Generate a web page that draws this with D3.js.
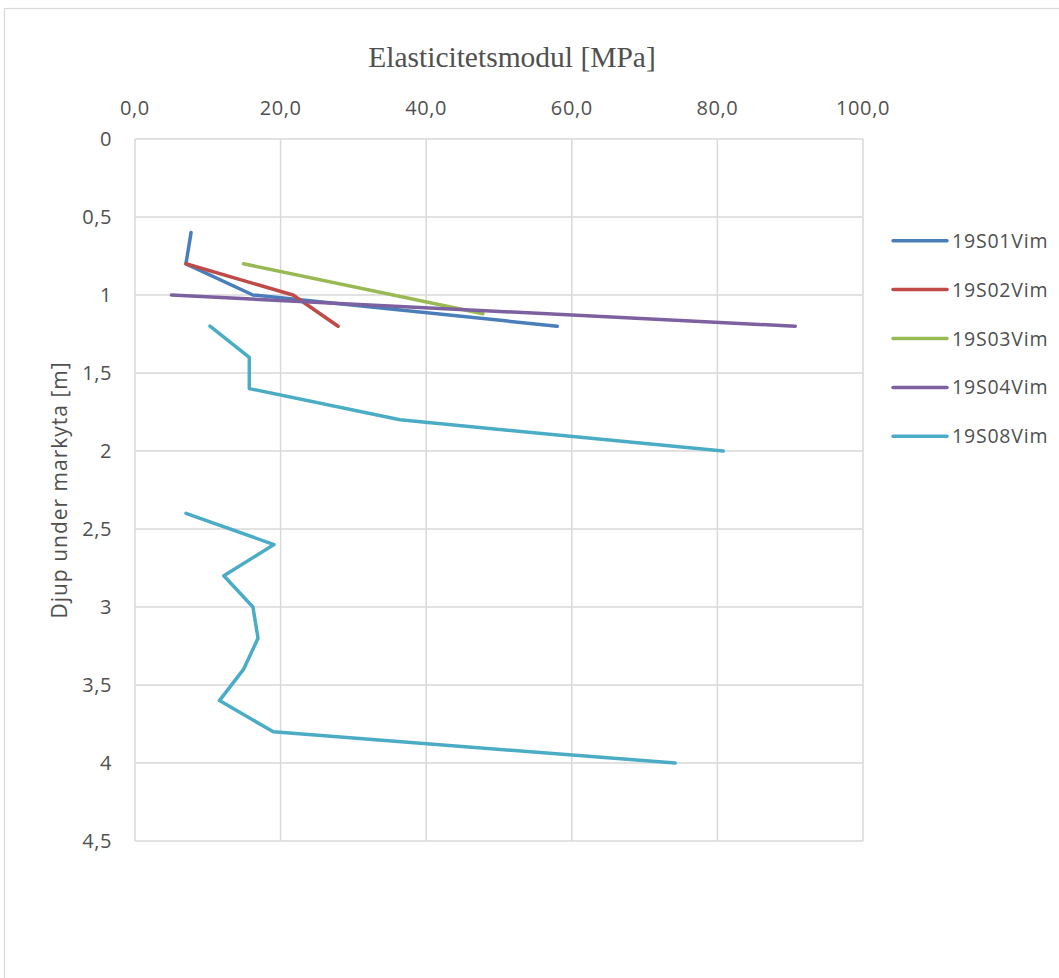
<!DOCTYPE html>
<html><head><meta charset="utf-8">
<script src="https://cdn.jsdelivr.net/npm/d3@7/dist/d3.min.js"></script>
<style>body{margin:0;background:#fff;}svg{display:block;}</style>
</head><body>
<script>
const seriesNames = ["19S01Vim","19S02Vim","19S03Vim","19S04Vim","19S08Vim"];
const seriesColors = ["#4A7EBB","#BE4B48","#98B954","#7D60A0","#4BACC6"];
const s01Depth = [0.6, 0.8, 1.0, 1.2];
const s01E     = [7.7, 7.0, 16.2, 58.0];
const s02Depth = [0.8, 1.0, 1.2];
const s02E     = [7.0, 21.7, 27.9];
const s03Depth = [0.8, 1.12];
const s03E     = [14.9, 47.8];
const s04Depth = [1.0, 1.2];
const s04E     = [5.0, 90.7];
const s08Depth = [1.2, 1.4, 1.6, 1.8, 2.0, 2.2, 2.4, 2.6, 2.8, 3.0, 3.2, 3.4, 3.6, 3.8, 4.0];
const s08E     = [10.3, 15.7, 15.7, 36.4, 80.8, null, 7.0, 19.1, 12.2, 16.2, 16.9, 14.9, 11.6, 19.0, 74.2];
const xTicks = [0, 20, 40, 60, 80, 100];
const yTicks = [0, 0.5, 1, 1.5, 2, 2.5, 3, 3.5, 4, 4.5];
const titleText = "Elasticitetsmodul [MPa]";
const yTitleText = "Djup under markyta [m]";

const W = 1059, H = 978;
const svg = d3.select("body").append("svg").attr("width", W).attr("height", H);
const fmt = v => d3.format(".1f")(v).replace(".", ",");
const fmtY = v => String(v).replace(".", ",");

svg.append("rect").attr("x", 4.5).attr("y", 8.5).attr("width", W + 10).attr("height", H + 10)
  .attr("fill", "#fff").attr("stroke", "#d9d9d9").attr("stroke-width", 1.2);

const x = d3.scaleLinear().domain([0, 100]).range([135, 863]);
const y = d3.scaleLinear().domain([0, 4.5]).range([139, 841]);

const grid = svg.append("g");
grid.selectAll("line.v").data(xTicks).join("line")
  .attr("x1", d => x(d)).attr("x2", d => x(d)).attr("y1", y(0)).attr("y2", y(4.5))
  .attr("stroke", "#d9d9d9").attr("stroke-width", 1.5);
grid.selectAll("line.h").data(yTicks).join("line")
  .attr("x1", x(0)).attr("x2", x(100)).attr("y1", d => y(d)).attr("y2", d => y(d))
  .attr("stroke", "#d9d9d9").attr("stroke-width", 1.5);

const font = "'Open Sans', sans-serif";
const txt = "#505050";

svg.append("g").selectAll("text").data(xTicks).join("text")
  .attr("x", d => x(d)).attr("y", 115).attr("text-anchor", "middle")
  .attr("font-family", font).attr("font-size", 20).attr("letter-spacing", 0.6).attr("fill", txt)
  .text(fmt);

svg.append("g").selectAll("text").data(yTicks).join("text")
  .attr("x", 112).attr("y", d => y(d) + 7).attr("text-anchor", "end")
  .attr("font-family", font).attr("font-size", 20).attr("letter-spacing", 0.6).attr("fill", txt)
  .text(fmtY);

svg.append("text").attr("x", 512).attr("y", 67).attr("text-anchor", "middle")
  .attr("font-family", "'Liberation Serif', 'Times New Roman', serif").attr("font-size", 29.5)
  .attr("fill", txt).text(titleText);

svg.append("text").attr("transform", `translate(67,${(y(0)+y(4.5))/2}) rotate(-90)`)
  .attr("text-anchor", "middle").attr("font-family", font).attr("font-size", 21).attr("letter-spacing", 1)
  .attr("fill", txt).text(yTitleText);

const series = [
  {depth: s01Depth, e: s01E},
  {depth: s02Depth, e: s02E},
  {depth: s03Depth, e: s03E},
  {depth: s04Depth, e: s04E},
  {depth: s08Depth, e: s08E}
].map((s, i) => ({name: seriesNames[i], color: seriesColors[i],
  pts: s.depth.map((d, j) => ({d, v: s.e[j]}))}));

const line = d3.line().defined(p => p.v !== null).x(p => x(p.v)).y(p => y(p.d));
svg.append("g").selectAll("path").data(series).join("path")
  .attr("d", s => line(s.pts)).attr("fill", "none").attr("stroke", s => s.color)
  .attr("stroke-width", 3.5).attr("stroke-linecap", "round").attr("stroke-linejoin", "round");

const leg = svg.append("g").selectAll("g").data(series).join("g")
  .attr("transform", (s, i) => `translate(0,${240.7 + i * 48.9})`);
leg.append("line").attr("x1", 893).attr("x2", 947).attr("y1", 0).attr("y2", 0)
  .attr("stroke", s => s.color).attr("stroke-width", 3.5).attr("stroke-linecap", "round");
leg.append("text").attr("x", 952).attr("y", 7).attr("font-family", font).attr("font-size", 19.5)
  .attr("letter-spacing", 0.8).attr("fill", txt).text(s => s.name);
</script>
</body></html>
